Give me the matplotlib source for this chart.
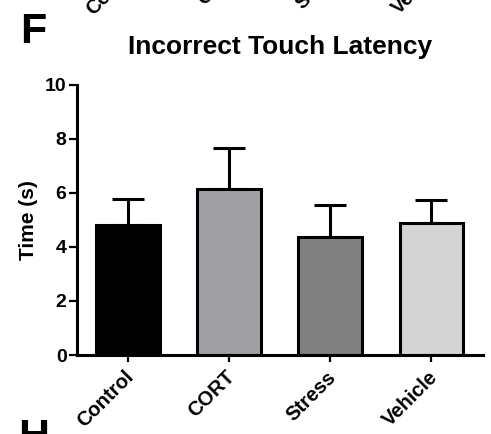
import matplotlib
matplotlib.use('Agg')
import matplotlib.pyplot as plt
import matplotlib.transforms as mtransforms
import numpy as np

# data
groups = ['Control', 'CORT', 'Stress', 'Vehicle']
means = [4.82, 6.13, 4.35, 4.87]
sem = [0.93, 1.52, 1.19, 0.85]
colors = ['#000000', '#a0a0a4', '#808080', '#d4d4d4']

plt.rcParams['font.family'] = ['Liberation Sans', 'DejaVu Sans']
plt.rcParams['font.weight'] = 'bold'

fig = plt.figure(figsize=(4.91, 4.34), dpi=100)
ax = fig.add_axes([77/491, 79/434, 406/491, 270.5/434])

x = np.arange(len(groups))
ax.bar(x, means, width=0.63, color=colors, edgecolor='black', linewidth=2.2, zorder=2)
ax.errorbar(x, means, yerr=[np.zeros(len(sem)), sem], fmt='none', ecolor='black',
            elinewidth=2.2, capsize=11.5, capthick=2.2, zorder=1)

xlen, xpad = 5, 8
ax.set_xlim(-0.505, 3.51)
ax.set_ylim(0, 10)
ax.set_yticks([0, 2, 4, 6, 8, 10])
ax.set_xticks(x)
ax.set_xticklabels(groups, rotation=45, ha='right', va='center', rotation_mode='anchor')
for sp in ['top', 'right']:
    ax.spines[sp].set_visible(False)
for sp in ['left', 'bottom']:
    ax.spines[sp].set_linewidth(2.2)
ax.tick_params(axis='y', length=5.5, width=1.6, pad=2, labelsize=14)
ax.tick_params(axis='x', length=xlen, width=1.6, pad=xpad, labelsize=14.5)
nudge = mtransforms.ScaledTranslation(3/100, -1/100, fig.dpi_scale_trans)
for lab in ax.get_xticklabels():
    lab.set_transform(lab.get_transform() + nudge)
ax.set_ylabel('Time (s)', fontsize=15, fontweight='bold', labelpad=5)
ax.set_title('Incorrect Touch Latency', fontsize=19, fontweight='bold', pad=22)

# cut-off pieces of the neighbouring panels
fig.text(20/491, 1 - 12/434, 'F', fontsize=31, fontweight='bold', ha='left', va='top')
fig.text(18/491, 1 - 418/434, 'H', fontsize=31, fontweight='bold', ha='left', va='top')
shift = mtransforms.ScaledTranslation(12/100, 411/100, fig.dpi_scale_trans)
ghost_trans = ax.get_xaxis_text1_transform(xlen + xpad)[0] + shift
for i, g in enumerate(groups):
    ax.text(i, 0, g, transform=ghost_trans, rotation=45,
            ha='right', va='center', rotation_mode='anchor', fontsize=14.5,
            fontweight='bold', clip_on=False)

fig.savefig('out.png', dpi=100)
